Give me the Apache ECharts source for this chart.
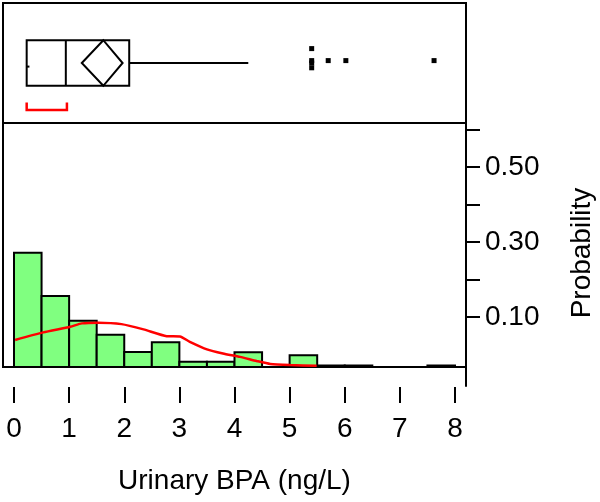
<!DOCTYPE html>
<html>
<head>
<meta charset="utf-8">
<script src="https://cdn.jsdelivr.net/npm/echarts@6/dist/echarts.min.js"></script>
<style>
html, body { margin: 0; padding: 0; background: #fff; }
#chart { width: 600px; height: 502px; }
</style>
</head>
<body>
<div id="chart"></div>
<script>
// histogram: bin edges (ng/L) and probability of each bin
var binEdges = [0, 0.5, 1, 1.5, 2, 2.5, 3, 3.5, 4, 4.5, 5, 5.5, 6, 6.5, 7, 7.5, 8];
var binProb = [0.304, 0.189, 0.123, 0.086, 0.040, 0.066, 0.014, 0.014, 0.039, 0, 0.031, 0.004, 0.004, 0, 0, 0.004];

// fitted density curve (red)
var curveX = [0.02, 0.53, 1.02, 1.23, 1.53, 1.95, 2.35, 2.77, 3.01, 3.19, 3.50, 3.79, 4.10, 4.40, 4.65, 5.01, 5.49];
var curveY = [0.072, 0.092, 0.107, 0.116, 0.118, 0.114, 0.100, 0.082, 0.081, 0.067, 0.047, 0.036, 0.027, 0.016, 0.008, 0.005, 0.003];

// outlier box plot summary
var boxStats = [0.28, 0.23, 0.94, 2.09, 4.25];   // lower whisker end, q1, median, q3, upper whisker end
var meanDiamond = [1.62, 1.23, 1.97];           // mean, lower 95%, upper 95%
var shortestHalf = [0.23, 0.96];
var outlierX = [5.40, 5.40, 5.40, 5.40, 5.70, 6.02, 7.62];
var outlierY = [0.62, 0.52, 0.50, 0.46, 0.52, 0.52, 0.52];  // vertical jitter

// axis labels
var xTickLabels = ['0', '1', '2', '3', '4', '5', '6', '7', '8'];
var probTickLabels = ['0.10', '0.30', '0.50'];

var FONT = 'Liberation Sans';
var myChart = echarts.init(document.getElementById('chart'));

function hiddenAxis(i) {
    return { gridIndex: i, type: 'value', show: false };
}
function gridAt(left, top, width, height, framed) {
    var g = { left: left, top: top, width: width, height: height, outerBoundsMode: 'none', containLabel: false };
    if (framed) {
        g.show = true;
        g.borderColor = '#000';
        g.borderWidth = 2;
        g.backgroundColor = 'transparent';
    }
    return g;
}

var histData = [];
for (var i = 0; i < binProb.length; i++) {
    if (binProb[i] > 0) histData.push([binEdges[i], binEdges[i + 1], binProb[i]]);
}
var curveData = curveX.map(function (x, i) { return [x, curveY[i]]; });
var outlierData = outlierX.map(function (x, i) { return [x, outlierY[i]]; });

var option = {
    animation: false,
    grid: [
        gridAt(3, 3, 463, 120, true),         // top frame
        gridAt(14, 3, 441, 120),              // box plot
        gridAt(3, 123, 463, 244, true),       // bottom frame
        gridAt(14, 141.4, 441, 225.6),        // histogram
        gridAt(3, 120, 463, 266),             // right axis line
        gridAt(3, 129.4, 463, 187.6)          // probability ticks
    ],
    xAxis: [
        hiddenAxis(0),
        { gridIndex: 1, type: 'value', min: 0, max: 8, show: false },
        hiddenAxis(2),
        {
            gridIndex: 3, type: 'value', min: 0, max: 8, interval: 1,
            offset: 20,
            splitLine: { show: false },
            axisLine: { show: false, onZero: false },
            axisTick: { show: true, length: 16, lineStyle: { color: '#000', width: 2 } },
            axisLabel: {
                margin: 28, color: '#000', fontFamily: FONT, fontSize: 28,
                formatter: function (v) { return xTickLabels[Math.round(v)]; }
            },
            name: 'Urinary BPA (ng/L)',
            nameLocation: 'middle',
            nameGap: 80,
            nameTextStyle: { color: '#000', fontFamily: FONT, fontSize: 28 }
        },
        hiddenAxis(4),
        hiddenAxis(5)
    ],
    yAxis: [
        hiddenAxis(0),
        { gridIndex: 1, type: 'value', min: 0, max: 1, show: false },
        hiddenAxis(2),
        { gridIndex: 3, type: 'value', min: 0, max: 0.6, show: false },
        {
            gridIndex: 4, type: 'value', min: 0, max: 1, position: 'right',
            splitLine: { show: false },
            axisLine: { show: true, onZero: false, lineStyle: { color: '#000', width: 2 } },
            axisTick: { show: false },
            axisLabel: { show: false },
            name: 'Probability',
            nameLocation: 'middle',
            nameRotate: 90,
            nameGap: 102,
            nameTextStyle: { color: '#000', fontFamily: FONT, fontSize: 28 }
        },
        {
            gridIndex: 5, type: 'value', min: 0.1, max: 0.6, interval: 0.1, position: 'right',
            splitLine: { show: false },
            axisLine: { show: false, onZero: false },
            axisTick: { show: true, length: 14, lineStyle: { color: '#000', width: 2 } },
            axisLabel: {
                margin: 19, color: '#000', fontFamily: FONT, fontSize: 28,
                formatter: function (v) {
                    var s = v.toFixed(2);
                    return probTickLabels.indexOf(s) >= 0 ? s : '';
                }
            }
        }
    ],
    series: [
        {
            type: 'custom', xAxisIndex: 3, yAxisIndex: 3,
            data: histData,
            renderItem: function (params, api) {
                var p1 = api.coord([api.value(0), api.value(2)]);
                var p2 = api.coord([api.value(1), 0]);
                return {
                    type: 'rect',
                    shape: { x: p1[0], y: p1[1], width: p2[0] - p1[0], height: p2[1] - p1[1] },
                    style: { fill: '#80ff80', stroke: '#000', lineWidth: 2 }
                };
            },
            z: 2
        },
        {
            type: 'line', xAxisIndex: 3, yAxisIndex: 3,
            data: curveData,
            showSymbol: false,
            smooth: 0.2,
            lineStyle: { color: '#ff0000', width: 2.5 },
            z: 3
        },
        {
            type: 'custom', xAxisIndex: 1, yAxisIndex: 1,
            data: [boxStats],
            renderItem: function (params, api) {
                var lo = api.value(0), q1 = api.value(1), med = api.value(2), q3 = api.value(3), hi = api.value(4);
                var a = api.coord([q1, 0.69]), b = api.coord([q3, 0.31]);
                var m1 = api.coord([med, 0.69]), m2 = api.coord([med, 0.31]);
                var w1 = api.coord([q3, 0.5]), w2 = api.coord([hi, 0.5]);
                var l1 = api.coord([q1, 0.47]), l2 = api.coord([lo, 0.47]);
                var st = { stroke: '#000', lineWidth: 2, fill: 'none' };
                return {
                    type: 'group',
                    children: [
                        { type: 'rect', shape: { x: a[0], y: a[1], width: b[0] - a[0], height: b[1] - a[1] }, style: st },
                        { type: 'line', shape: { x1: m1[0], y1: m1[1], x2: m2[0], y2: m2[1] }, style: st },
                        { type: 'line', shape: { x1: w1[0], y1: w1[1], x2: w2[0], y2: w2[1] }, style: st },
                        { type: 'line', shape: { x1: l1[0], y1: l1[1], x2: l2[0], y2: l2[1] }, style: st }
                    ]
                };
            }
        },
        {
            type: 'custom', xAxisIndex: 1, yAxisIndex: 1,
            data: [meanDiamond],
            renderItem: function (params, api) {
                var mean = api.value(0), lo = api.value(1), hi = api.value(2);
                return {
                    type: 'polygon',
                    shape: { points: [api.coord([lo, 0.5]), api.coord([mean, 0.69]), api.coord([hi, 0.5]), api.coord([mean, 0.31])] },
                    style: { stroke: '#000', lineWidth: 2, fill: 'none' }
                };
            }
        },
        {
            type: 'custom', xAxisIndex: 1, yAxisIndex: 1,
            data: [shortestHalf],
            renderItem: function (params, api) {
                var lo = api.value(0), hi = api.value(1);
                return {
                    type: 'polyline',
                    shape: { points: [api.coord([lo, 0.17]), api.coord([lo, 0.108]), api.coord([hi, 0.108]), api.coord([hi, 0.17])] },
                    style: { stroke: '#ff0000', lineWidth: 2.5, fill: 'none' }
                };
            }
        },
        {
            type: 'scatter', xAxisIndex: 1, yAxisIndex: 1,
            data: outlierData,
            symbol: 'rect',
            symbolSize: 5,
            itemStyle: { color: '#000', opacity: 1 }
        }
    ]
};

myChart.setOption(option);
</script>
</body>
</html>
